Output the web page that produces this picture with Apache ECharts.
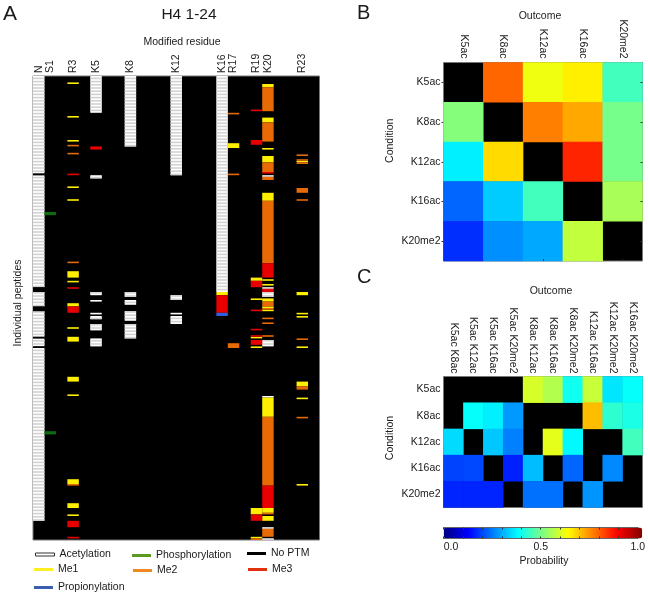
<!DOCTYPE html>
<html>
<head>
<meta charset="utf-8">
<style>html,body{margin:0;padding:0;background:#fff}#c{width:648px;height:594px}</style>
<script src="https://cdn.jsdelivr.net/npm/echarts@6/dist/echarts.min.js"></script>
</head>
<body>
<div id="c"></div>
<script>
// Panel A: column labels (N terminus + residues 1..24)
const residueLabels = ['N','S1','','R3','','K5','','','K8','','','','K12','','','','K16','R17','','R19','K20','','','R23',''];
const peptideRows = 290;
// Runs per PTM type: [column, firstRow, endRow]
const acetylationRuns = [
  [0,0,61],[0,62,132],[0,135,144],[0,147,163],[0,164,169],[0,170,278],
  [5,0,23],[5,62,64],[5,135,137],[5,140,141],[5,148,149],[5,150,152],[5,155,159],[5,164,169],
  [8,0,44],[8,135,138],[8,140,143],[8,147,153],[8,155,164],
  [12,0,62],[12,137,140],[12,148,149],[12,150,155],
  [16,0,135],
  [20,62,63],[20,132,133],[20,135,138],[20,165,169],[20,200,201],[20,282,283],[20,289,290]
];
const phosphorylationRuns = [[1,85,87],[1,222,224]];
const noPtmRuns = [[0,61,62],[0,132,135],[0,144,147],[0,163,164],[0,169,170]];
const me1Runs = [
  [3,4,5],[3,25,26],[3,40,41],[3,69,70],[3,77,78],[3,122,126],[3,128,129],[3,142,144],[3,157,158],[3,163,166],
  [3,188,191],[3,199,200],[3,252,255],[3,267,270],[3,274,275],
  [16,135,137],
  [17,42,45],
  [19,126,128],[19,139,140],[19,163,164],[19,169,170],[19,270,274],[19,288,289],
  [20,5,7],[20,26,29],[20,45,46],[20,50,54],[20,73,78],[20,127,128],[20,130,131],[20,139,141],[20,144,145],[20,146,147],
  [20,201,213],[20,270,273],[20,275,278],
  [23,53,54],[23,135,137],[23,148,149],[23,150,151],[23,169,170],[23,191,194],[23,201,202],[23,255,256]
];
const me2Runs = [
  [3,43,44],[3,48,49],[3,116,117],[3,255,256],
  [17,23,24],[17,61,62],[17,167,170],
  [19,289,290],
  [20,7,22],[20,29,41],[20,54,60],[20,63,65],[20,78,117],[20,141,144],[20,145,146],[20,151,152],[20,154,155],[20,162,163],
  [20,213,256],[20,273,274],[20,283,288],
  [23,49,50],[23,52,53],[23,54,55],[23,70,73],[23,77,78],[23,164,165],[23,194,196],[23,213,214]
];
const me3Runs = [
  [3,61,62],[3,132,133],[3,144,148],[3,278,282],[3,288,289],
  [5,44,46],
  [16,137,148],
  [19,21,22],[19,40,43],[19,128,132],[19,146,147],[19,158,159],[19,162,163],[19,165,168],[19,274,278],
  [20,60,61],[20,117,126],[20,133,135],[20,256,270]
];
const propionylationRuns = [[16,148,150]];

// Panels B and C
const pairOutcomes = ['K5ac','K8ac','K12ac','K16ac','K20me2'];
const conditions = ['K5ac','K8ac','K12ac','K16ac','K20me2'];
const pairProbabilities = [
  [null,0.775,0.61,0.64,0.44],
  [0.505,null,0.75,0.71,0.49],
  [0.36,0.66,null,0.84,0.49],
  [0.225,0.325,0.44,null,0.54],
  [0.17,0.265,0.29,0.565,null]
];
const tripleOutcomes = ['K5ac K8ac','K5ac K12ac','K5ac K16ac','K5ac K20me2','K8ac K12ac','K8ac K16ac','K8ac K20me2','K12ac K16ac','K12ac K20me2','K16ac K20me2'];
const tripleProbabilities = [
  [null,null,null,null,0.585,0.55,0.39,0.57,0.35,0.38],
  [null,0.38,0.36,0.275,null,null,null,0.69,0.42,0.40],
  [0.34,null,0.32,0.25,null,0.60,0.37,null,null,0.44],
  [0.19,0.195,null,0.155,0.31,null,0.225,null,0.26,null],
  [0.16,0.16,0.16,null,0.235,0.235,null,0.27,null,null]
];
const colorbarTicks = ['0.0','0.5','1.0'];

const FONT = '"Liberation Sans", Arial, sans-serif';
const TXT = '#1a1a1a';
const jet = ['#000080','#0000ff','#0080ff','#00ffff','#80ff80','#ffff00','#ff8000','#ff0000','#800000'];

function cells(matrix){
  const out = [];
  matrix.forEach((row, y) => row.forEach((v, x) => { if (v !== null) out.push([x, y, v]); }));
  return out;
}
function renderRun(params, api){
  const c = api.value(0);
  const p0 = api.coord([c, api.value(1)]);
  const p1 = api.coord([c, api.value(2)]);
  const w = api.size([1, 0])[0];
  const stripe = api.value(3) === 1;
  return {
    type: 'rect',
    shape: { x: p0[0] - w / 2, y: p0[1], width: w, height: p1[1] - p0[1] },
    style: { fill: stripe ? '#d2d2d2' : api.visual('color') }
  };
}
function runSeries(name, runs, color, striped){
  const data = runs.map(r => [r[0], r[1], r[2], 0]);
  if (striped) {
    // a solid run first, then the alternate peptide rows as pale stripes
    runs.forEach(r => { for (let i = r[1]; i < r[2]; i++) if (i % 2) data.push([r[0], i, i + 1, 1]); });
  }
  return {
    type: 'custom', name, xAxisIndex: 0, yAxisIndex: 0, coordinateSystem: 'cartesian2d',
    renderItem: renderRun, data, encode: { x: 0, y: [1, 2] }, itemStyle: { color },
    clip: true, animation: false, silent: true
  };
}
function legendItem(name, left, top, color, border){
  return {
    left, top, padding: 0, orient: 'horizontal', selectedMode: false,
    itemWidth: 19, itemHeight: 3, icon: 'rect', inactiveColor: color,
    textStyle: { fontFamily: FONT, fontSize: 10.5, color: TXT },
    data: [{ name, itemStyle: { color, borderColor: border || color, borderWidth: border ? 1 : 0 } }]
  };
}
function text(t, left, top, size, align){
  return { text: t, left, top, padding: 0, textAlign: align || 'center',
    textStyle: { fontFamily: FONT, fontSize: size, fontWeight: 'normal', color: TXT } };
}
function catLabel(extra){
  return Object.assign({ fontFamily: FONT, fontSize: 10.5, color: TXT, interval: 0 }, extra);
}
const gridLine = { show: false };
const noLine = { show: false };

const option = {
  backgroundColor: '#fff',
  animation: false,
  textStyle: { fontFamily: FONT },
  title: [
    text('A', 3, 4, 21, 'left'), text('B', 357, 3, 20, 'left'), text('C', 357, 267, 20, 'left'),
    text('H4 1-24', 189, 7, 15.5),
    text('Modified residue', 182, 37, 10.5),
    text('Outcome', 540, 11, 10.5),
    text('Outcome', 551, 286, 10.5),
    text('Probability', 544, 556, 10.5)
  ],
  legend: [
    legendItem('Acetylation', 35, 549, '#ffffff', '#333333'),
    legendItem('Phosphorylation', 132, 550, '#5a9a20'),
    legendItem('No PTM', 247, 548, '#000000'),
    legendItem('Me1', 34, 564, '#ffee22'),
    legendItem('Me2', 133, 565, '#ee8822'),
    legendItem('Me3', 248, 564, '#e03010'),
    legendItem('Propionylation', 34, 582, '#3a5fb0')
  ],
  grid: [
    { left: 33, top: 76, width: 286.5, height: 464, show: true, backgroundColor: '#000', borderColor: '#777', borderWidth: 1 },
    { left: 443.5, top: 62.5, width: 199, height: 198.5, show: true, backgroundColor: '#000', borderColor: '#777', borderWidth: 1 },
    { left: 443.5, top: 376.5, width: 199, height: 131, show: true, backgroundColor: '#000', borderColor: '#777', borderWidth: 1 },
    { left: 443.7, top: 527.5, width: 198.5, height: 11, show: false }
  ],
  xAxis: [
    { gridIndex: 0, type: 'category', position: 'top', data: residueLabels, axisLine: noLine, axisTick: noLine, splitLine: gridLine,
      axisLabel: catLabel({ rotate: 90, margin: 3 }) },
    { gridIndex: 1, type: 'category', position: 'top', data: pairOutcomes, axisLine: noLine, axisTick: noLine, splitLine: gridLine,
      axisLabel: catLabel({ rotate: 90, margin: 4 }) },
    { gridIndex: 1, type: 'category', position: 'bottom', data: pairOutcomes, axisLine: noLine, axisLabel: { show: false }, splitLine: gridLine,
      axisTick: { show: true, inside: true, length: 2, alignWithLabel: true, lineStyle: { color: '#333' } }, z: 5 },
    { gridIndex: 2, type: 'category', position: 'top', data: tripleOutcomes, axisLine: noLine, axisTick: noLine, splitLine: gridLine,
      axisLabel: catLabel({ rotate: 90, margin: 3 }) },
    { gridIndex: 3, type: 'value', min: 0, max: 1, interval: 0.1, position: 'bottom', z: 10, splitLine: gridLine,
      axisLine: { show: true, lineStyle: { color: '#666' } },
      axisTick: { show: true, inside: true, length: 2, lineStyle: { color: '#333' } },
      axisLabel: { fontFamily: FONT, fontSize: 10.5, color: TXT, margin: 3, alignMinLabel: 'left',
        formatter: v => { const s = v.toFixed(1); return colorbarTicks.includes(s) ? s : ''; } } },
    { gridIndex: 3, type: 'value', min: 0, max: 1, interval: 0.1, position: 'top', z: 10, splitLine: gridLine,
      axisLine: { show: true, lineStyle: { color: '#666' } }, axisLabel: { show: false },
      axisTick: { show: true, inside: true, length: 2, lineStyle: { color: '#333' } } }
  ],
  yAxis: [
    { gridIndex: 0, type: 'value', min: 0, max: peptideRows, inverse: true, axisLine: noLine, axisTick: noLine, axisLabel: { show: false }, splitLine: gridLine,
      name: 'Individual peptides', nameLocation: 'middle', nameGap: 9, nameRotate: 90,
      nameTextStyle: { fontFamily: FONT, fontSize: 10.5, color: TXT, padding: [0, 0, 0, 10] } },
    { gridIndex: 1, type: 'category', inverse: true, data: conditions, axisLine: noLine, splitLine: gridLine,
      axisTick: { show: true, length: 2, alignWithLabel: true, lineStyle: { color: '#333' } },
      axisLabel: catLabel({ margin: 3, padding: [0, 0, 4, 0] }),
      name: 'Condition', nameLocation: 'middle', nameGap: 48, nameRotate: 90,
      nameTextStyle: { fontFamily: FONT, fontSize: 10.5, color: TXT, padding: [0, 0, 0, 42] } },
    { gridIndex: 1, type: 'category', inverse: true, position: 'right', data: conditions, axisLine: noLine, axisLabel: { show: false }, splitLine: gridLine,
      axisTick: { show: true, inside: true, length: 2, alignWithLabel: true, lineStyle: { color: '#333' } }, z: 5 },
    { gridIndex: 2, type: 'category', inverse: true, data: conditions, axisLine: noLine, axisTick: noLine, splitLine: gridLine,
      axisLabel: catLabel({ margin: 3 }),
      name: 'Condition', nameLocation: 'middle', nameGap: 48, nameRotate: 90,
      nameTextStyle: { fontFamily: FONT, fontSize: 10.5, color: TXT, padding: [0, 0, 0, 8] } },
    { gridIndex: 3, type: 'value', min: 0, max: 1, show: false },
  ],
  visualMap: {
    type: 'continuous', min: 0, max: 1, dimension: 2, seriesIndex: [7, 8],
    orient: 'horizontal', left: 443.7, top: 527.5, itemWidth: 11, itemHeight: 198.5, padding: 0,
    calculable: false, hoverLink: false, realtime: false, text: null, showLabel: false, z: 1,
    formatter: () => '',
    textStyle: { fontSize: 0 },
    inRange: { color: jet }
  },
  series: [
    runSeries('Acetylation', acetylationRuns, '#ffffff', true),
    runSeries('Phosphorylation', phosphorylationRuns, '#0e6b12'),
    runSeries('No PTM', noPtmRuns, '#000000'),
    runSeries('Me1', me1Runs, '#ffee00'),
    runSeries('Me2', me2Runs, '#e86a05'),
    runSeries('Me3', me3Runs, '#e80000'),
    runSeries('Propionylation', propionylationRuns, '#3060e0'),
    { type: 'heatmap', xAxisIndex: 1, yAxisIndex: 1, data: cells(pairProbabilities), silent: true, animation: false },
    { type: 'heatmap', xAxisIndex: 3, yAxisIndex: 3, data: cells(tripleProbabilities), silent: true, animation: false }
  ]
};
echarts.init(document.getElementById('c'), null, { renderer: 'canvas' }).setOption(option);
</script>
</body>
</html>
